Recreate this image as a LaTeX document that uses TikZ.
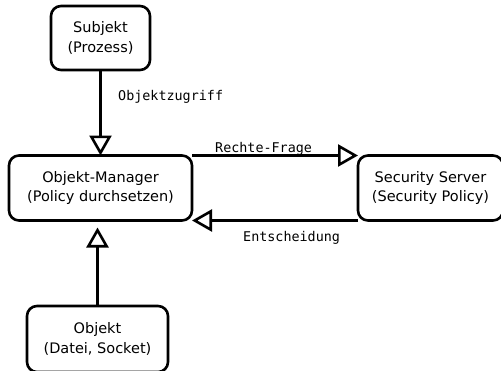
\documentclass[tikz,border=0pt]{standalone}
\usepackage{fontspec}
\setmainfont{DejaVu Sans}
\newfontfamily\monofont{DejaVu Sans Mono}
\usetikzlibrary{arrows.meta,calc}
\begin{document}
\begin{tikzpicture}[x=1pt,y=-1pt,
  box/.style={draw, line width=2.6pt, rounded corners=10pt, align=center,
    inner sep=0pt, outer sep=0pt, font=\fontsize{14.5}{19.5}\selectfont},
  flow/.style={line width=2.6pt,
    -{Triangle[open, length=20pt, width=22pt]}},
  lbl/.style={font=\monofont\fontsize{13.4}{16}\selectfont, inner sep=0pt,
    anchor=base west}]
\useasboundingbox (0,0) rectangle (501,370);

% components
\node[box, minimum width=99pt, minimum height=64pt] (sub) at (100.5,38)
  {Subjekt\\(Prozess)};
\node[box, minimum width=183pt, minimum height=65pt] (om) at (100.5,188)
  {Objekt-Manager\\(Policy durchsetzen)};
\node[box, minimum width=145pt, minimum height=65pt] (ss) at (430.5,188)
  {Security Server\\(Security Policy)};
\node[box, minimum width=141pt, minimum height=66pt] (obj) at (97.5,339)
  {Objekt\\(Datei, Socket)};

% access and decision flow
\draw[flow] (sub.south) -- (om.north);
\draw[flow] (om.north east) -- (ss.north west);
\draw[flow] (ss.south west) -- (om.south east);
\draw[flow, shorten >=7pt] (obj.north) -- (obj.north |- om.south);

% flow labels
\node[lbl] (l1) at (118,100) {Objektzugriff};
\node[lbl] (l2) at (215,152) {Rechte-Frage};
\node[lbl] (l3) at (243,241) {Entscheidung};
\end{tikzpicture}
\end{document}
